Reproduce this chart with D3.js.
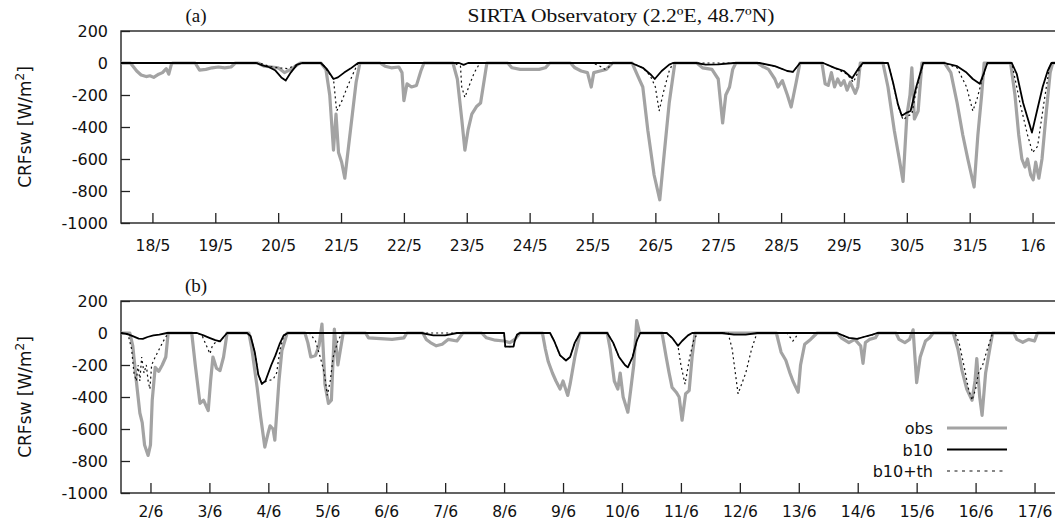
<!DOCTYPE html>
<html>
<head>
<meta charset="utf-8">
<script src="https://cdn.jsdelivr.net/npm/d3@7"></script>
<style>
body { margin: 0; background: #fff; }
svg text { font-family: "DejaVu Sans", sans-serif; fill: #111; }
</style>
</head>
<body>
<div id="chart"></div>
<script>
// day labels (ticks at noon of each day)
const daysA = ["18/5","19/5","20/5","21/5","22/5","23/5","24/5","25/5","26/5","27/5","28/5","29/5","30/5","31/5","1/6"];
const daysB = ["2/6","3/6","4/6","5/6","6/6","7/6","8/6","9/6","10/6","11/6","12/6","13/6","14/6","15/6","16/6","17/6"];
const yTicks = [-1000, -800, -600, -400, -200, 0, 200];

// [days since first midnight, CRFsw W/m2]
const obsA = [[0,0],[0.15,0],[0.25,-50],[0.32,-75],[0.4,-85],[0.46,-80],[0.52,-90],[0.6,-70],[0.66,-60],[0.72,-35],[0.76,-70],[0.8,-10],[0.82,0],
  [1.18,0],[1.25,-45],[1.35,-40],[1.45,-30],[1.55,-25],[1.65,-30],[1.75,-25],[1.82,0],
  [2.18,0],[2.28,-20],[2.4,-25],[2.5,-30],[2.6,-60],[2.7,-40],[2.85,0],
  [3.18,0],[3.26,-40],[3.32,-200],[3.38,-545],[3.42,-320],[3.46,-560],[3.51,-620],[3.56,-720],[3.62,-520],[3.68,-320],[3.74,-120],[3.8,0],
  [4.12,0],[4.2,-20],[4.3,-30],[4.42,-25],[4.47,-60],[4.5,-235],[4.55,-130],[4.62,-150],[4.7,-140],[4.77,-50],[4.82,0],
  [5.28,0],[5.35,-100],[5.42,-350],[5.47,-545],[5.52,-420],[5.58,-320],[5.66,-270],[5.72,-250],[5.78,-100],[5.82,0],
  [6.15,0],[6.22,-30],[6.35,-40],[6.5,-40],[6.65,-40],[6.75,-30],[6.82,0],
  [7.15,0],[7.22,-30],[7.32,-50],[7.42,-60],[7.48,-150],[7.52,-60],[7.62,-50],[7.72,-40],[7.82,0],
  [8.13,0],[8.22,-80],[8.3,-150],[8.38,-420],[8.48,-700],[8.57,-855],[8.62,-650],[8.72,-250],[8.81,0],
  [9.16,0],[9.25,-30],[9.4,-40],[9.5,-100],[9.57,-375],[9.62,-200],[9.68,-150],[9.73,-40],[9.78,0],
  [10.12,0],[10.2,-20],[10.3,-40],[10.4,-100],[10.45,-150],[10.52,-110],[10.6,-200],[10.66,-275],[10.74,-120],[10.8,0],
  [11.15,0],[11.2,-130],[11.25,-140],[11.3,-60],[11.35,-150],[11.4,-100],[11.45,-140],[11.5,-110],[11.55,-170],[11.6,-120],[11.68,-190],[11.72,-150],[11.76,0],
  [12.12,0],[12.2,-150],[12.3,-420],[12.38,-600],[12.44,-740],[12.5,-330],[12.55,-200],[12.58,-30],[12.62,-350],[12.68,-300],[12.74,0],
  [13.1,0],[13.2,-60],[13.3,-250],[13.39,-450],[13.47,-600],[13.57,-775],[13.63,-450],[13.69,-200],[13.73,0],
  [14.15,0],[14.22,-200],[14.28,-450],[14.33,-600],[14.38,-650],[14.42,-600],[14.47,-700],[14.51,-730],[14.55,-620],[14.6,-720],[14.65,-600],[14.72,-300],[14.78,-60],[14.82,0],[15,0]];

const b10A = [[0,0],[2.15,0],[2.25,-15],[2.35,-25],[2.45,-45],[2.55,-90],[2.62,-110],[2.7,-60],[2.8,-10],[2.88,0],
  [3.18,0],[3.28,-40],[3.38,-100],[3.45,-90],[3.55,-60],[3.65,-35],[3.77,0],
  [5.38,0],[5.45,-12],[5.52,0],
  [8.12,0],[8.3,-30],[8.42,-70],[8.49,-100],[8.6,-50],[8.72,-10],[8.78,0],
  [9.15,0],[9.3,-10],[9.5,-8],[9.75,0],
  [10.16,0],[10.4,-20],[10.6,-50],[10.69,-55],[10.8,0],
  [11.17,0],[11.35,-30],[11.5,-50],[11.63,-95],[11.72,-40],[11.8,0],
  [12.2,0],[12.28,-120],[12.36,-260],[12.42,-330],[12.5,-310],[12.56,-300],[12.65,-150],[12.76,0],
  [13.1,0],[13.3,-20],[13.45,-60],[13.55,-100],[13.66,-130],[13.72,-70],[13.78,0],
  [14.17,0],[14.25,-70],[14.35,-250],[14.49,-435],[14.57,-300],[14.66,-150],[14.74,-50],[14.8,0],[15,0]];

const b10thA = [[0,0],[2.2,0],[2.35,-20],[2.5,-30],[2.65,-35],[2.8,-10],[2.88,0],
  [3.2,0],[3.3,-60],[3.38,-100],[3.43,-300],[3.5,-250],[3.6,-150],[3.7,-60],[3.77,0],
  [5.3,0],[5.4,-20],[5.42,-150],[5.47,-215],[5.55,-130],[5.62,-60],[5.71,0],
  [7.5,0],[7.62,-20],[7.7,-40],[7.78,-20],[7.82,0],
  [8.12,0],[8.3,-30],[8.42,-80],[8.5,-150],[8.56,-300],[8.63,-180],[8.72,-50],[8.78,0],
  [10.16,0],[10.4,-20],[10.6,-50],[10.69,-55],[10.8,0],
  [11.17,0],[11.4,-40],[11.55,-70],[11.65,-120],[11.72,-60],[11.8,0],
  [12.2,0],[12.28,-120],[12.36,-270],[12.44,-355],[12.52,-330],[12.58,-320],[12.65,-170],[12.76,0],
  [13.1,0],[13.3,-30],[13.45,-150],[13.55,-300],[13.62,-220],[13.7,-100],[13.78,0],
  [14.17,0],[14.3,-250],[14.42,-450],[14.5,-560],[14.58,-520],[14.68,-250],[14.77,-20],[14.8,0],[15,0]];

const obsB = [[0,0],[0.15,0],[0.2,-80],[0.26,-300],[0.32,-500],[0.36,-560],[0.4,-700],[0.46,-765],[0.5,-700],[0.53,-420],[0.58,-215],[0.64,-240],[0.7,-200],[0.76,-150],[0.8,0],
  [1.2,0],[1.26,-200],[1.34,-440],[1.4,-420],[1.48,-485],[1.52,-300],[1.56,-150],[1.62,-220],[1.68,-235],[1.74,-150],[1.8,0],
  [2.17,0],[2.22,-100],[2.31,-340],[2.37,-525],[2.44,-713],[2.5,-620],[2.53,-580],[2.58,-600],[2.61,-670],[2.68,-300],[2.73,-110],[2.82,0],
  [3.12,0],[3.17,-60],[3.22,-150],[3.3,-140],[3.36,-80],[3.41,56],[3.46,-320],[3.52,-440],[3.57,-420],[3.62,25],[3.68,-200],[3.77,0],
  [4.15,0],[4.2,-30],[4.4,-35],[4.6,-40],[4.8,-30],[4.85,0],
  [5.12,0],[5.18,-40],[5.25,-60],[5.35,-80],[5.45,-70],[5.55,-40],[5.7,-50],[5.8,0],
  [6.12,0],[6.2,-30],[6.35,-45],[6.5,-50],[6.6,-60],[6.68,-40],[6.77,0],
  [7.15,0],[7.2,-100],[7.25,-180],[7.32,-250],[7.38,-300],[7.45,-350],[7.5,-300],[7.58,-390],[7.62,-320],[7.7,-150],[7.79,0],
  [8.25,0],[8.3,-100],[8.37,-300],[8.43,-350],[8.47,-250],[8.52,-400],[8.6,-495],[8.65,-350],[8.7,-200],[8.75,77],[8.8,0],
  [9.18,0],[9.25,-150],[9.3,-250],[9.35,-340],[9.42,-370],[9.47,-400],[9.52,-545],[9.58,-380],[9.64,-360],[9.69,-150],[9.74,0],
  [11.12,0],[11.2,-120],[11.28,-170],[11.35,-250],[11.4,-300],[11.45,-340],[11.49,-370],[11.53,-200],[11.6,-70],[11.7,-40],[11.81,0],
  [12.15,0],[12.22,-30],[12.35,-60],[12.45,-40],[12.55,-80],[12.59,-190],[12.63,-60],[12.7,-40],[12.8,-30],[12.85,0],
  [13.15,0],[13.2,-40],[13.3,-60],[13.38,-40],[13.44,20],[13.5,-310],[13.56,-150],[13.65,-50],[13.72,-30],[13.78,0],
  [14.12,0],[14.2,-100],[14.27,-235],[14.35,-350],[14.44,-420],[14.49,-300],[14.52,-160],[14.57,-400],[14.61,-515],[14.67,-250],[14.75,-80],[14.79,0],
  [15.15,0],[15.2,-40],[15.3,-58],[15.4,-40],[15.5,-50],[15.55,0],[16,0]];

const b10B = [[0,0],[0.1,-5],[0.2,-20],[0.3,-35],[0.37,-37],[0.45,-25],[0.55,-15],[0.65,-10],[0.78,0],
  [1.29,0],[1.4,-15],[1.5,-30],[1.6,-45],[1.68,-52],[1.74,-25],[1.8,0],
  [2.14,0],[2.2,-20],[2.27,-120],[2.33,-260],[2.39,-318],[2.45,-300],[2.55,-200],[2.62,-140],[2.69,-70],[2.76,-15],[2.83,0],
  [5.1,0],[5.3,-15],[5.5,-15],[5.7,0],
  [6.5,0],[6.52,-85],[6.66,-85],[6.68,-50],[6.72,-10],[6.77,0],
  [7.28,0],[7.35,-50],[7.45,-140],[7.55,-172],[7.62,-150],[7.7,-60],[7.79,0],
  [8.25,0],[8.35,-60],[8.45,-150],[8.55,-200],[8.6,-215],[8.68,-150],[8.75,-50],[8.81,0],
  [9.26,0],[9.35,-30],[9.45,-80],[9.52,-50],[9.62,-15],[9.69,0],
  [10.2,0],[10.4,-10],[10.6,-10],[10.8,0],
  [12.15,0],[12.35,-30],[12.49,-37],[12.6,-25],[12.75,-10],[12.83,0],[16,0]];

const b10thB = [[0,0],[0.12,-10],[0.18,-100],[0.22,-250],[0.26,-300],[0.29,-200],[0.32,-300],[0.35,-150],[0.39,-250],[0.43,-200],[0.46,-300],[0.49,-350],[0.52,-200],[0.58,-150],[0.65,-100],[0.72,-50],[0.8,0],
  [1.3,0],[1.38,-20],[1.45,-80],[1.51,-130],[1.55,-80],[1.6,-60],[1.68,-52],[1.8,0],
  [2.14,0],[2.2,-20],[2.27,-120],[2.33,-260],[2.39,-318],[2.47,-300],[2.58,-290],[2.64,-250],[2.7,-100],[2.76,-20],[2.83,0],
  [3.2,0],[3.3,-50],[3.38,-150],[3.45,-250],[3.5,-390],[3.55,-300],[3.6,-150],[3.68,-50],[3.75,0],
  [6.5,0],[6.52,-85],[6.66,-85],[6.68,-50],[6.72,-10],[6.77,0],
  [7.28,0],[7.35,-50],[7.45,-140],[7.55,-172],[7.62,-150],[7.7,-60],[7.79,0],
  [8.25,0],[8.35,-60],[8.45,-150],[8.55,-200],[8.6,-215],[8.68,-150],[8.75,-50],[8.81,0],
  [9.26,0],[9.35,-30],[9.45,-80],[9.5,-200],[9.57,-320],[9.65,-150],[9.72,-40],[9.79,0],
  [10.3,0],[10.37,-100],[10.47,-380],[10.6,-250],[10.7,-100],[10.79,0],
  [11.3,0],[11.4,-50],[11.5,0],
  [12.15,0],[12.35,-30],[12.49,-37],[12.6,-25],[12.75,-10],[12.83,0],
  [14.15,0],[14.22,-60],[14.3,-200],[14.38,-350],[14.44,-420],[14.5,-350],[14.55,-250],[14.62,-200],[14.7,-100],[14.79,0],[16,0]];

const width = 1055, height = 525;
const left = 121, right = 1064;   // right border falls just outside the picture

const svg = d3.select("#chart").append("svg")
    .attr("width", width)
    .attr("height", height);

function drawPanel(p) {
    const x = d3.scaleLinear().domain([0, p.days.length]).range([left, right]);
    const y = d3.scaleLinear().domain([-1000, 200]).range([p.bottom, p.top]);

    const g = svg.append("g");

    // x axis (ticks at noon)
    const xa = g.append("g")
        .attr("transform", `translate(0,${p.bottom})`)
        .call(d3.axisBottom(x)
            .tickValues(p.days.map((d, i) => i + 0.5))
            .tickFormat((d, i) => p.days[i])
            .tickSize(-10)
            .tickPadding(p.xPad));
    xa.select(".domain").remove();
    xa.selectAll("line").attr("stroke", "#222").attr("stroke-width", 1.3);
    xa.selectAll("text").style("font-size", "15.5px").attr("fill", "#111");

    // y axis, plain hyphen minus and no thousands separator
    const ya = g.append("g")
        .attr("transform", `translate(${left},0)`)
        .call(d3.axisLeft(y).tickValues(yTicks).tickFormat(d => String(d)).tickSize(-9).tickPadding(13));
    ya.select(".domain").remove();
    ya.selectAll("line").attr("stroke", "#222").attr("stroke-width", 1.3);
    ya.selectAll("text").style("font-size", "16px").attr("fill", "#111");

    // mirrored ticks on the right
    g.append("g").selectAll("line")
        .data(yTicks)
        .join("line")
        .attr("x1", right).attr("x2", right - 9)
        .attr("y1", d => y(d)).attr("y2", d => y(d))
        .attr("stroke", "#222").attr("stroke-width", 1.3);

    // border
    g.append("rect")
        .attr("x", left).attr("y", p.top)
        .attr("width", right - left).attr("height", p.bottom - p.top)
        .attr("fill", "none").attr("stroke", "#222").attr("stroke-width", 1.4);

    const line = d3.line().x(d => x(d[0])).y(d => y(d[1]));

    g.append("path").datum(p.obs)
        .attr("d", line).attr("fill", "none")
        .attr("stroke", "#a3a3a3").attr("stroke-width", 3.2)
        .attr("stroke-linejoin", "round");

    g.append("path").datum(p.th)
        .attr("d", line).attr("fill", "none")
        .attr("stroke", "#111").attr("stroke-width", 1.2)
        .attr("stroke-dasharray", "2,3");

    g.append("path").datum(p.b10)
        .attr("d", line).attr("fill", "none")
        .attr("stroke", "#000").attr("stroke-width", 1.8)
        .attr("stroke-linejoin", "round");

    // panel letter
    g.append("text")
        .attr("x", 196).attr("y", p.top - 9)
        .attr("text-anchor", "middle")
        .style("font-family", "'Liberation Serif', serif")
        .style("font-size", "19px")
        .text(p.label);

    // y label
    const yl = g.append("text")
        .attr("transform", `translate(31,${(p.top + p.bottom) / 2}) rotate(-90)`)
        .attr("text-anchor", "middle")
        .style("font-size", "17px");
    yl.append("tspan").text("CRFsw [W/m");
    yl.append("tspan").attr("dy", -7).style("font-size", "12px").text("2");
    yl.append("tspan").attr("dy", 7).text("]");

    return { x, y };
}

drawPanel({ days: daysA, top: 31, bottom: 223, xPad: 17, obs: obsA, b10: b10A, th: b10thA, label: "(a)" });
drawPanel({ days: daysB, top: 301, bottom: 493, xPad: 13, obs: obsB, b10: b10B, th: b10thB, label: "(b)" });

// title
svg.append("text")
    .attr("x", 621).attr("y", 22)
    .attr("text-anchor", "middle")
    .attr("textLength", 307)
    .attr("lengthAdjust", "spacingAndGlyphs")
    .style("font-family", "'Liberation Serif', serif")
    .style("font-size", "19px")
    .text("SIRTA Observatory (2.2ºE, 48.7ºN)");

// legend (panel b)
const legendItems = [
    { label: "obs", color: "#a3a3a3", w: 3.2, dash: null },
    { label: "b10", color: "#000", w: 1.8, dash: null },
    { label: "b10+th", color: "#111", w: 1.1, dash: "3,4.5" }
];
const legend = svg.append("g").attr("transform", "translate(933,428)");
legendItems.forEach((d, i) => {
    const row = legend.append("g").attr("transform", `translate(0,${i * 21.5})`);
    row.append("text").attr("x", 0).attr("y", 6)
        .attr("text-anchor", "end").style("font-size", "16px").text(d.label);
    row.append("line").attr("x1", 14).attr("x2", 74).attr("y1", 0).attr("y2", 0)
        .attr("stroke", d.color).attr("stroke-width", d.w)
        .attr("stroke-dasharray", d.dash);
});
</script>
</body>
</html>
